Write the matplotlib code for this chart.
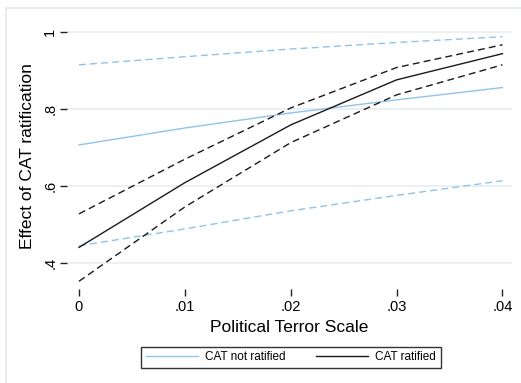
import matplotlib
matplotlib.use('Agg')
import matplotlib.pyplot as plt
from matplotlib.patches import Rectangle

plt.rcParams['font.family'] = ['Liberation Sans', 'DejaVu Sans']

# Data
pts = [0, 0.01, 0.02, 0.03, 0.04]
not_rat = [0.706, 0.750, 0.789, 0.823, 0.855]
not_rat_hi = [0.914, 0.935, 0.955, 0.972, 0.987]
not_rat_lo = [0.444, 0.488, 0.535, 0.575, 0.613]
rat = [0.440, 0.608, 0.758, 0.875, 0.943]
rat_hi = [0.527, 0.669, 0.802, 0.907, 0.966]
rat_lo = [0.352, 0.545, 0.712, 0.836, 0.914]

xticks = [0, 0.01, 0.02, 0.03, 0.04]
xticklabels = ['0', '.01', '.02', '.03', '.04']
yticks = [0.4, 0.6, 0.8, 1.0]
yticklabels = ['.4', '.6', '.8', '1']

blue = '#8ec3ea'
dark = '#1a1a1a'

fig = plt.figure(figsize=(5.21, 3.83), dpi=100)
fig.patch.set_facecolor('white')
# faint outer frame (Stata graph region)
fig.patches.append(Rectangle((6 / 521, -0.1), 1.2, (383 - 8) / 383 + 0.1,
                             transform=fig.transFigure, fill=False,
                             edgecolor='#e3e9ec', linewidth=1.2))

ax = fig.add_axes([67 / 521, (383 - 289) / 383, (512 - 67) / 521, (289 - 24) / 383])

ax.plot(pts, not_rat, color=blue, lw=1.0, label='CAT not ratified')
ax.plot(pts, not_rat_hi, color=blue, lw=1.0, ls=(0, (5, 3)))
ax.plot(pts, not_rat_lo, color=blue, lw=1.0, ls=(0, (5, 3)))
ax.plot(pts, rat, color=dark, lw=1.0, label='CAT ratified')
ax.plot(pts, rat_hi, color=dark, lw=1.0, ls=(0, (5, 3)))
ax.plot(pts, rat_lo, color=dark, lw=1.0, ls=(0, (5, 3)))

ax.set_xlim(-0.00113, 0.0409)
ax.set_ylim(0.332, 1.02)
for s in ax.spines.values():
    s.set_visible(False)
ax.set_xticks(xticks)
ax.set_xticklabels(xticklabels, fontsize=10.5)
ax.set_yticks(yticks)
ax.set_yticklabels(yticklabels, fontsize=10.5, rotation=90, va='center')
ax.tick_params(axis='both', direction='out', length=5, width=1, color='#222222')
ax.tick_params(axis='x', pad=3)
ax.tick_params(axis='y', pad=2)
ax.grid(axis='y', color='#e8eff1', lw=1.2)
ax.set_axisbelow(True)

ax.set_xlabel('Political Terror Scale', fontsize=12.5, labelpad=4)
ax.set_ylabel('Effect of CAT ratification', fontsize=12.5, labelpad=6)

fig.legend(loc='center', bbox_to_anchor=(291 / 521, (383 - 357.5) / 383),
           ncol=2, fontsize=8.5, frameon=True, fancybox=False,
           edgecolor='#333333', framealpha=1, handlelength=4.4,
           handletextpad=0.6, columnspacing=2.6, borderpad=0.4)

fig.savefig('out.png', dpi=100)
